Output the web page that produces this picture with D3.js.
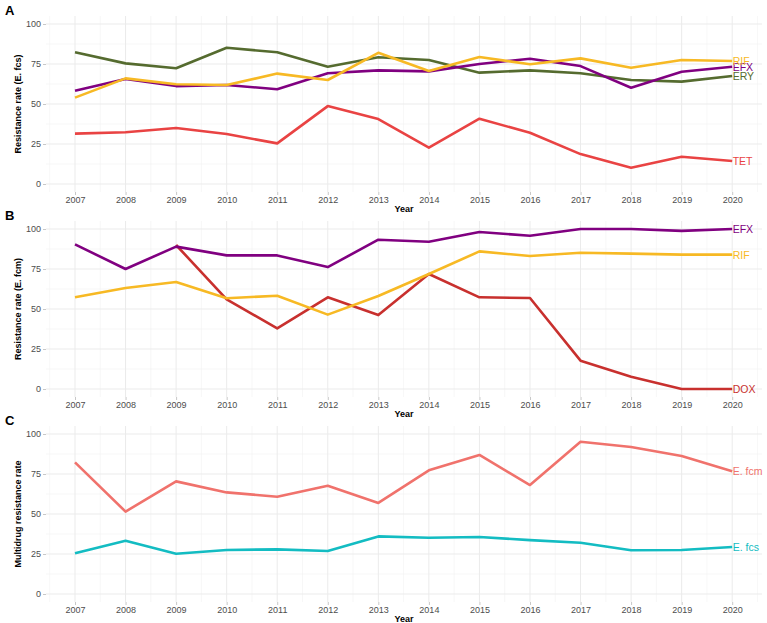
<!DOCTYPE html>
<html>
<head>
<meta charset="utf-8">
<script src="https://cdn.jsdelivr.net/npm/d3@7"></script>
<style>
  body { margin: 0; background: #fff; }
  svg { font-family: "Liberation Sans", Arial, sans-serif; }
</style>
</head>
<body>
<div id="chart"></div>
<script>
// years on the x axis
var years = [2007, 2008, 2009, 2010, 2011, 2012, 2013, 2014, 2015, 2016, 2017, 2018, 2019, 2020];
var yTicks = [0, 25, 50, 75, 100];

// panel A: E. fcs resistance
var fcsERY = [82.3, 75.4, 72.3, 85.2, 82.3, 73.3, 79.2, 77.5, 69.6, 71.0, 69.2, 65.0, 64.0, 67.5];
var fcsEFX = [58.3, 65.6, 61.2, 61.9, 59.2, 69.2, 71.0, 70.4, 75.0, 78.3, 73.7, 60.2, 70.2, 73.3];
var fcsRIF = [54.0, 66.0, 62.3, 61.9, 69.0, 65.0, 82.0, 70.6, 79.4, 74.8, 78.5, 72.7, 77.5, 76.9];
var fcsTET = [31.5, 32.3, 35.0, 31.2, 25.4, 48.7, 40.6, 22.7, 40.8, 32.0, 18.7, 10.2, 17.0, 14.4];

// panel B: E. fcm resistance (DOX starts 2009)
var fcmEFX = [90.4, 75.0, 89.0, 83.5, 83.5, 76.2, 93.3, 92.0, 98.1, 95.8, 100, 100, 98.8, 100];
var fcmRIF = [57.3, 63.1, 66.9, 56.7, 58.3, 46.5, 58.1, 71.9, 86.0, 83.1, 85.2, 84.6, 84.0, 84.0];
var fcmDOX = [null, null, 90.0, 56.0, 37.9, 57.3, 46.2, 71.9, 57.3, 56.9, 17.7, 7.7, 0, 0];

// panel C: multidrug resistance
var mdrFcm = [82.3, 51.5, 70.4, 63.5, 60.8, 67.7, 56.9, 77.3, 86.9, 68.1, 95.2, 91.9, 86.2, 76.7];
var mdrFcs = [25.4, 33.3, 25.2, 27.5, 27.9, 26.9, 36.0, 35.2, 35.6, 33.7, 32.0, 27.3, 27.5, 29.4];

var width = 767, height = 623;
var svg = d3.select('#chart').append('svg')
    .attr('width', width)
    .attr('height', height);

var xScale = d3.scaleLinear().domain([2007, 2020]).range([75, 732.2]);
var panelLeft = 46, panelRight = 762;

var panels = [
    {letter: 'A', top: 24, title: 'Resistance rate (E. fcs)', series: [
        {name: 'ERY', values: fcsERY, color: '#556B2F'},
        {name: 'EFX', values: fcsEFX, color: '#800080'},
        {name: 'RIF', values: fcsRIF, color: '#F7B924'},
        {name: 'TET', values: fcsTET, color: '#E94343'}
    ]},
    {letter: 'B', top: 229, title: 'Resistance rate (E. fcm)', series: [
        {name: 'DOX', values: fcmDOX, color: '#C8302E'},
        {name: 'RIF', values: fcmRIF, color: '#F7B924'},
        {name: 'EFX', values: fcmEFX, color: '#800080'}
    ]},
    {letter: 'C', top: 434, title: 'Multidrug resistance rate', series: [
        {name: 'E. fcm', values: mdrFcm, color: '#F0726C'},
        {name: 'E. fcs', values: mdrFcs, color: '#13BCC2'}
    ]}
];

panels.forEach(function(p) {
    var yScale = d3.scaleLinear().domain([0, 100]).range([p.top + 160, p.top]);
    var g = svg.append('g');
    var pTop = p.top - 8, pBottom = p.top + 168;

    // minor grid
    var minorY = [12.5, 37.5, 62.5, 87.5];
    g.selectAll('.minor-y').data(minorY).enter().append('line')
        .attr('x1', panelLeft).attr('x2', panelRight)
        .attr('y1', function(d) { return yScale(d); })
        .attr('y2', function(d) { return yScale(d); })
        .attr('stroke', '#f2f2f2').attr('stroke-width', 0.6);
    var minorX = years.map(function(y) { return y - 0.5; }).concat([2020.5]);
    g.selectAll('.minor-x').data(minorX).enter().append('line')
        .attr('x1', function(d) { return xScale(d); })
        .attr('x2', function(d) { return xScale(d); })
        .attr('y1', pTop).attr('y2', pBottom)
        .attr('stroke', '#f2f2f2').attr('stroke-width', 0.6);

    // major grid
    g.selectAll('.major-y').data(yTicks).enter().append('line')
        .attr('x1', panelLeft).attr('x2', panelRight)
        .attr('y1', function(d) { return yScale(d); })
        .attr('y2', function(d) { return yScale(d); })
        .attr('stroke', '#ebebeb').attr('stroke-width', 1);
    g.selectAll('.major-x').data(years).enter().append('line')
        .attr('x1', function(d) { return xScale(d); })
        .attr('x2', function(d) { return xScale(d); })
        .attr('y1', pTop).attr('y2', pBottom)
        .attr('stroke', '#ebebeb').attr('stroke-width', 1);

    // axes
    var yAxis = d3.axisLeft(yScale).tickValues(yTicks).tickSize(3).tickPadding(2);
    var ya = g.append('g').attr('transform', 'translate(' + panelLeft + ',0)').call(yAxis);
    var xAxis = d3.axisBottom(xScale).tickValues(years).tickFormat(d3.format('d')).tickSize(3).tickPadding(2);
    var xa = g.append('g').attr('transform', 'translate(0,' + pBottom + ')').call(xAxis);
    [ya, xa].forEach(function(a) {
        a.select('.domain').remove();
        a.selectAll('.tick line').attr('stroke', '#c8c8c8');
        a.selectAll('.tick text').attr('fill', '#4d4d4d')
            .style('font-size', '9px')
            .style('font-family', '"Liberation Sans", Arial, sans-serif');
    });

    // titles
    g.append('text')
        .attr('transform', 'translate(18,' + (p.top + 80) + ') rotate(-90)')
        .attr('text-anchor', 'middle')
        .attr('dominant-baseline', 'central')
        .style('font-size', '9px').style('font-weight', 'bold')
        .text(p.title);
    g.append('text')
        .attr('x', 404).attr('y', pBottom + 20)
        .attr('text-anchor', 'middle')
        .style('font-size', '9px').style('font-weight', 'bold')
        .text('Year');
    g.append('text')
        .attr('x', 5).attr('y', p.top - 9)
        .style('font-size', '13px').style('font-weight', 'bold')
        .text(p.letter);

    // lines
    var line = d3.line()
        .defined(function(d) { return d.v != null; })
        .x(function(d) { return xScale(d.year); })
        .y(function(d) { return yScale(d.v); });

    p.series.forEach(function(s) {
        var pts = years.map(function(y, i) { return {year: y, v: s.values[i]}; });
        g.append('path')
            .datum(pts)
            .attr('fill', 'none')
            .attr('stroke', s.color)
            .attr('stroke-width', 2.6)
            .attr('stroke-linejoin', 'round')
            .attr('d', line);
    });

    p.series.forEach(function(s) {
        var last = s.values[s.values.length - 1];
        g.append('text')
            .attr('x', xScale(2020) + 0.5)
            .attr('y', yScale(last))
            .attr('dominant-baseline', 'central')
            .attr('fill', s.color)
            .style('font-size', '10.5px')
            .text(s.name);
    });
});
</script>
</body>
</html>
